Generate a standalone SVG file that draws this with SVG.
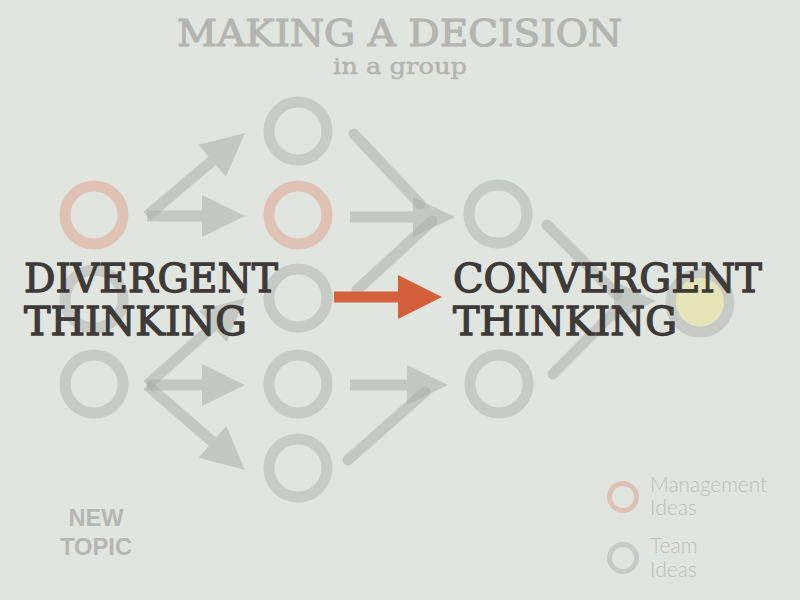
<svg xmlns="http://www.w3.org/2000/svg" width="800" height="600" viewBox="0 0 800 600">
<style>
.bg{fill:#e1e5e0}
.ring{fill:none;stroke:#c7cac5;stroke-width:11}
.mgmt{fill:none;stroke:#e0c2b5;stroke-width:11}
.conn{fill:#a8aba6;fill-opacity:0.5;stroke:none}
.line{stroke:#a8aba6;stroke-opacity:0.5;stroke-width:11;stroke-linecap:round;fill:none}
.title{font-family:"DejaVu Serif","Liberation Serif",serif;fill:#b3b5b0;stroke:#b3b5b0}
.big{font-family:"DejaVu Serif","Liberation Serif",serif;fill:#3e3a38;stroke:#3e3a38;stroke-width:1.3;font-size:40px}
.topic{font-family:"Liberation Sans",Arial,sans-serif;font-weight:bold;fill:#b5b7b2;font-size:24px;text-anchor:middle}
.legend{font-family:Lato,"Open Sans",sans-serif;font-weight:300;fill:#bcbeb9;font-size:21px}
</style>
<rect class="bg" x="0" y="0" width="800" height="600"/>

<g id="connectors">
  <polygon class="conn" points="147,210.5 202,210.5 202,195 245,216 202,237 202,221.5 147,221.5"/>
  <polygon class="conn" points="150.6,220.2 215.8,165 225.8,176.8 245,133 198.6,144.8 208.7,156.6 143.5,211.8"/>
  <polygon class="conn" points="147,379.5 202,379.5 202,364 245,385 202,406 202,390.5 147,390.5"/>
  <polygon class="conn" points="143.4,389.2 208.9,446 198.7,457.7 245,470 226.3,425.9 216.1,437.6 150.6,380.8"/>
  <polygon class="conn" points="150.7,389.1 216.4,330.6 226.7,342.2 245,298 198.9,310.8 209.2,322.4 143.4,380.9"/>

  <polygon class="conn" points="350,211.5 413,211.5 413,197 455,217 413,237 413,222.5 350,222.5"/>
  <line class="line" x1="354" y1="134" x2="420" y2="204"/>
  <line class="line" x1="357" y1="290" x2="432" y2="221"/>

  <polygon class="conn" points="350,379.5 407,379.5 407,365 448,385 407,405 407,390.5 350,390.5"/>
  <line class="line" x1="348" y1="460" x2="425" y2="392"/>

  <line class="line" x1="547" y1="225" x2="617" y2="295"/>
  <line class="line" x1="553" y1="374" x2="614" y2="312"/>
  <polygon class="conn" points="614,281 656,301 614,321"/>

  <polygon fill="#d4603b" points="334,291.5 398,291.5 398,275 442,297 398,319 398,302.5 334,302.5"/>
</g>

<g id="n-start-mgmt"><circle class="mgmt" cx="94" cy="215" r="29"/></g>
<g id="n-start-team1"><circle class="ring" cx="94" cy="299" r="29"/></g>
<g id="n-start-team2"><circle class="ring" cx="94" cy="384" r="29"/></g>

<g id="n-div-1"><circle class="ring" cx="298" cy="131" r="29"/></g>
<g id="n-div-2"><circle class="mgmt" cx="298" cy="215" r="29"/></g>
<g id="n-div-3"><circle class="ring" cx="298" cy="298" r="29"/></g>
<g id="n-div-4"><circle class="ring" cx="298" cy="384" r="29"/></g>
<g id="n-div-5"><circle class="ring" cx="298" cy="468" r="29"/></g>

<g id="n-conv-1"><circle class="ring" cx="498" cy="214" r="29"/></g>
<g id="n-conv-2"><circle class="ring" cx="499" cy="384" r="29"/></g>

<g id="n-decision">
  <circle class="ring" cx="700" cy="303" r="29"/>
  <circle fill="#e6e5b8" cx="700" cy="302" r="24"/>
</g>

<g id="title">
  <text class="title" x="177" y="46" font-size="38" stroke-width="1.2" textLength="445" lengthAdjust="spacingAndGlyphs">MAKING A DECISION</text>
  <text class="title" x="333" y="74" font-size="23" stroke-width="0.5" textLength="134" lengthAdjust="spacingAndGlyphs">in a group</text>
</g>

<g id="label-divergent">
  <text class="big" x="24" y="292" textLength="254" lengthAdjust="spacingAndGlyphs">DIVERGENT</text>
  <text class="big" x="24" y="335" textLength="223" lengthAdjust="spacingAndGlyphs">THINKING</text>
</g>
<g id="label-convergent">
  <text class="big" x="453" y="292" textLength="309" lengthAdjust="spacingAndGlyphs">CONVERGENT</text>
  <text class="big" x="453" y="335" textLength="224" lengthAdjust="spacingAndGlyphs">THINKING</text>
</g>

<g id="label-newtopic">
  <text class="topic" x="96" y="526" textLength="55" lengthAdjust="spacingAndGlyphs">NEW</text>
  <text class="topic" x="96" y="555" textLength="72" lengthAdjust="spacingAndGlyphs">TOPIC</text>
</g>

<g id="legend-management">
  <circle fill="none" stroke="#e0c2b5" stroke-width="5" cx="623" cy="497" r="13.5"/>
  <text class="legend" x="650" y="492" textLength="117" lengthAdjust="spacingAndGlyphs">Management</text>
  <text class="legend" x="650" y="515">Ideas</text>
</g>
<g id="legend-team">
  <circle fill="none" stroke="#c7cac5" stroke-width="5" cx="623" cy="558" r="13.5"/>
  <text class="legend" x="650" y="553">Team</text>
  <text class="legend" x="650" y="577">Ideas</text>
</g>
</svg>
